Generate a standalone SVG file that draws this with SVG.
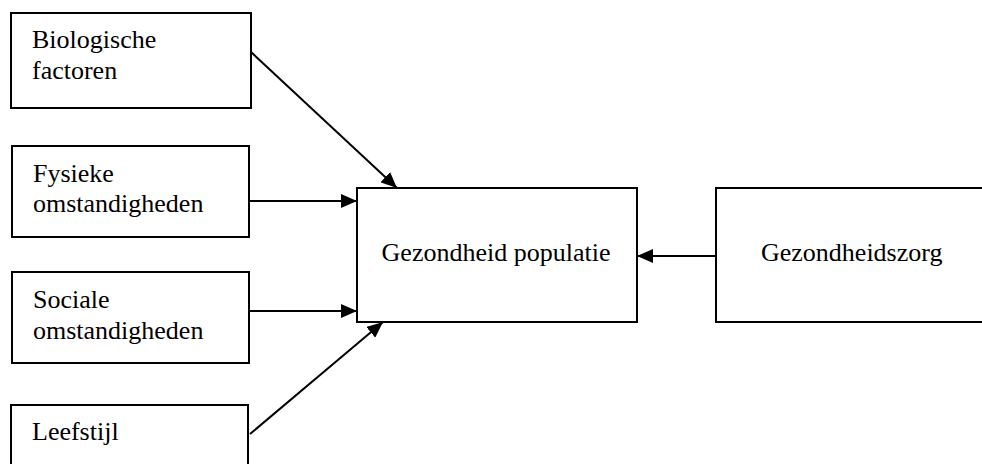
<svg xmlns="http://www.w3.org/2000/svg" width="982" height="464" viewBox="0 0 982 464">
  <style>
    .box { fill: #ffffff; stroke: #000000; stroke-width: 2; }
    .label { font-family: "Liberation Serif", "Times New Roman", serif; font-size: 26px; fill: #000000; }
    .mid { text-anchor: middle; }
    .edge { stroke: #000000; stroke-width: 2; fill: none; marker-end: url(#head); }
  </style>
  <defs>
    <marker id="head" markerUnits="userSpaceOnUse" markerWidth="18" markerHeight="14" refX="16" refY="7" orient="auto">
      <path d="M0,0 L16,7 L0,14 Z" fill="#000000"/>
    </marker>
  </defs>
  <rect width="982" height="464" fill="#ffffff"/>

  <g id="biologische-factoren">
    <rect class="box" x="11" y="13" width="240" height="95"/>
    <text class="label" x="32" y="48">Biologische</text>
    <text class="label" x="32" y="79">factoren</text>
  </g>

  <g id="fysieke-omstandigheden">
    <rect class="box" x="12" y="146" width="237" height="91"/>
    <text class="label" x="33" y="182">Fysieke</text>
    <text class="label" x="33" y="212">omstandigheden</text>
  </g>

  <g id="sociale-omstandigheden">
    <rect class="box" x="12" y="272" width="237" height="91"/>
    <text class="label" x="33" y="308">Sociale</text>
    <text class="label" x="33" y="339">omstandigheden</text>
  </g>

  <g id="leefstijl">
    <rect class="box" x="11" y="405" width="237" height="75"/>
    <text class="label" x="32" y="440">Leefstijl</text>
  </g>

  <g id="gezondheid-populatie">
    <rect class="box" x="357" y="188" width="280" height="134"/>
    <text class="label mid" x="496" y="261">Gezondheid populatie</text>
  </g>

  <g id="gezondheidszorg">
    <rect class="box" x="716" y="188" width="300" height="134"/>
    <text class="label" x="761" y="261">Gezondheidszorg</text>
  </g>

  <g id="connectors">
    <line class="edge" x1="251" y1="52" x2="397" y2="188"/>
    <line class="edge" x1="249" y1="201" x2="357" y2="201"/>
    <line class="edge" x1="249" y1="311" x2="357" y2="311"/>
    <line class="edge" x1="250" y1="434" x2="383" y2="322"/>
    <line class="edge" x1="716" y1="256" x2="637" y2="256"/>
  </g>
</svg>
